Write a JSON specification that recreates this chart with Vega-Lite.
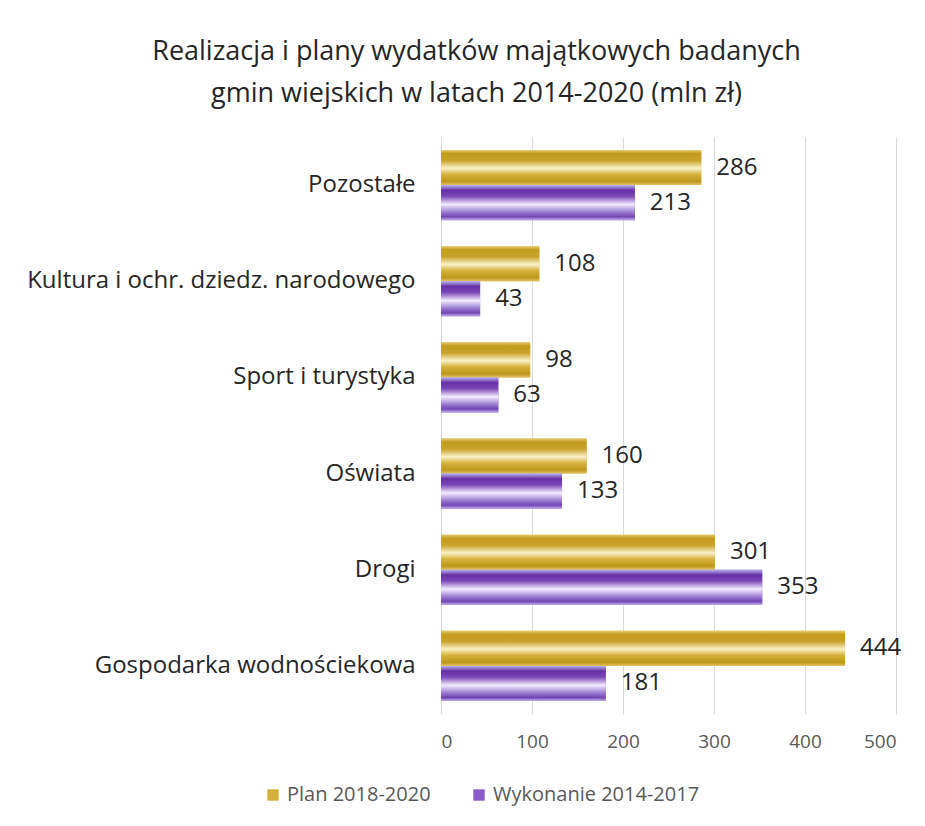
{
  "$schema": "https://vega.github.io/schema/vega-lite/v6.json",
  "autosize": {"type": "none"},
  "width": 455,
  "height": 577,
  "padding": {"left": 441, "top": 137, "right": 29, "bottom": 112},
  "background": "white",
  "title": {
    "text": ["Realizacja i plany  wydatków majątkowych   badanych", "gmin wiejskich w latach 2014-2020 (mln zł)"],
    "font": "Open Sans",
    "fontSize": 27,
    "fontWeight": "normal",
    "color": "#262626",
    "anchor": "middle",
    "frame": "group",
    "dx": -192,
    "offset": 29,
    "lineHeight": 42
  },
  "config": {
    "view": {"stroke": null},
    "font": "Open Sans",
    "axis": {"labelFont": "Open Sans", "titleFont": "Open Sans"},
    "legend": {"labelFont": "Open Sans"}
  },
  "data": {
    "values": [
      {"kategoria": "Pozostałe", "seria": "Plan 2018-2020", "wartosc": 286},
      {"kategoria": "Pozostałe", "seria": "Wykonanie 2014-2017", "wartosc": 213},
      {"kategoria": "Kultura i ochr. dziedz. narodowego", "seria": "Plan 2018-2020", "wartosc": 108},
      {"kategoria": "Kultura i ochr. dziedz. narodowego", "seria": "Wykonanie 2014-2017", "wartosc": 43},
      {"kategoria": "Sport i turystyka", "seria": "Plan 2018-2020", "wartosc": 98},
      {"kategoria": "Sport i turystyka", "seria": "Wykonanie 2014-2017", "wartosc": 63},
      {"kategoria": "Oświata", "seria": "Plan 2018-2020", "wartosc": 160},
      {"kategoria": "Oświata", "seria": "Wykonanie 2014-2017", "wartosc": 133},
      {"kategoria": "Drogi", "seria": "Plan 2018-2020", "wartosc": 301},
      {"kategoria": "Drogi", "seria": "Wykonanie 2014-2017", "wartosc": 353},
      {"kategoria": "Gospodarka wodnościekowa", "seria": "Plan 2018-2020", "wartosc": 444},
      {"kategoria": "Gospodarka wodnościekowa", "seria": "Wykonanie 2014-2017", "wartosc": 181}
    ]
  },
  "encoding": {
    "y": {
      "field": "kategoria",
      "type": "nominal",
      "sort": ["Pozostałe", "Kultura i ochr. dziedz. narodowego", "Sport i turystyka", "Oświata", "Drogi", "Gospodarka wodnościekowa"],
      "scale": {"paddingInner": 0.27, "paddingOuter": 0.135},
      "axis": {
        "title": null,
        "domain": false,
        "ticks": false,
        "grid": false,
        "labelFontSize": 24,
        "labelColor": "#262626",
        "labelPadding": 26,
        "labelLimit": 500
      }
    },
    "x": {
      "field": "wartosc",
      "type": "quantitative",
      "scale": {"domain": [0, 500], "nice": false},
      "axis": {
        "title": null,
        "values": [0, 100, 200, 300, 400, 500],
        "domain": false,
        "ticks": false,
        "grid": true,
        "gridColor": "#d9d9d9",
        "gridWidth": 1,
        "labelFontSize": 19,
        "labelColor": "#595959",
        "labelPadding": 18
      }
    },
    "yOffset": {
      "field": "seria",
      "type": "nominal",
      "sort": ["Plan 2018-2020", "Wykonanie 2014-2017"],
      "scale": {"paddingInner": 0, "paddingOuter": 0}
    }
  },
  "layer": [
    {
      "mark": {"type": "bar"},
      "encoding": {
        "color": {
          "field": "seria",
          "type": "nominal",
          "scale": {"domain": ["Plan 2018-2020", "Wykonanie 2014-2017"], "range": ["#d4b03a", "#8a5cc8"]},
          "legend": {
            "title": null,
            "orient": "none",
            "legendX": -178,
            "legendY": 648,
            "direction": "horizontal",
            "symbolType": "square",
            "symbolSize": 130,
            "labelFontSize": 20,
            "labelColor": "#595959",
            "labelLimit": 400,
            "columnPadding": 38,
            "labelOffset": 4
          }
        }
      }
    },
    {
      "mark": {"type": "bar"},
      "encoding": {
        "fill": {
          "condition": {
            "test": "datum.seria === 'Plan 2018-2020'",
            "value": {
              "gradient": "linear", "x1": 0, "y1": 0, "x2": 0, "y2": 1,
              "stops": [
                {"offset": 0, "color": "#e6cf78"},
                {"offset": 0.1, "color": "#c49a1c"},
                {"offset": 0.3, "color": "#c9a22a"},
                {"offset": 0.52, "color": "#fbf1c6"},
                {"offset": 0.7, "color": "#d5b13c"},
                {"offset": 0.9, "color": "#c0961c"},
                {"offset": 1, "color": "#e2c66a"}
              ]
            }
          },
          "value": {
            "gradient": "linear", "x1": 0, "y1": 0, "x2": 0, "y2": 1,
            "stops": [
              {"offset": 0, "color": "#b9b2ee"},
              {"offset": 0.15, "color": "#6530a5"},
              {"offset": 0.32, "color": "#7c48b8"},
              {"offset": 0.55, "color": "#f2ecff"},
              {"offset": 0.75, "color": "#a184d4"},
              {"offset": 0.9, "color": "#7244b3"},
              {"offset": 1, "color": "#c4b0ea"}
            ]
          }
        }
      }
    },
    {
      "mark": {"type": "text", "align": "left", "baseline": "middle", "dx": 15, "fontSize": 24, "color": "#262626", "font": "Open Sans"},
      "encoding": {
        "text": {"field": "wartosc", "type": "quantitative"}
      }
    }
  ]
}
